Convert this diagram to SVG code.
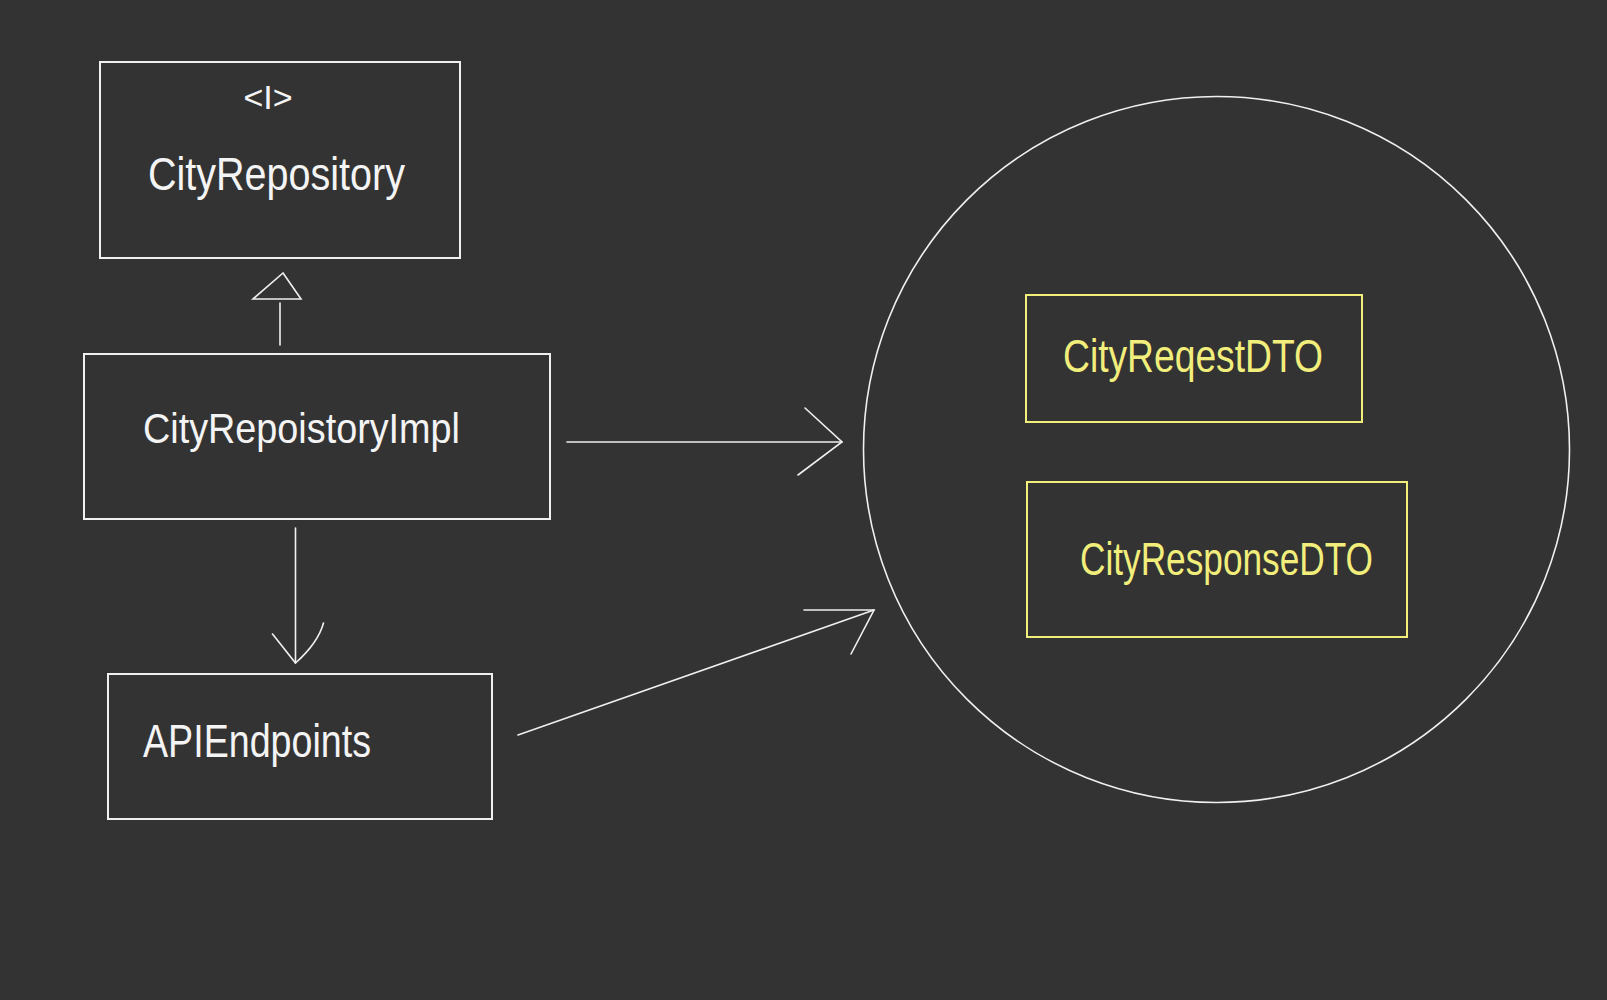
<svg xmlns="http://www.w3.org/2000/svg" width="1607" height="1000" viewBox="0 0 1607 1000">
<style>
.bg{fill:#333333}
.box{fill:none;stroke:#f0f0f0;stroke-width:2}
.ybox{fill:none;stroke:#f2ee7c;stroke-width:2}
.ln{fill:none;stroke:#f0f0f0;stroke-width:1.6;stroke-linecap:round;stroke-linejoin:miter}
.t{font-family:"Liberation Sans",Arial,sans-serif;fill:#f4f4f4;font-weight:normal}
.yt{font-family:"Liberation Sans",Arial,sans-serif;fill:#f2ee7c}
</style>
<rect class="bg" x="0" y="0" width="1607" height="1000"/>
<g id="city-repository">
<rect class="box" x="100" y="62" width="360" height="196"/>
<text class="t" x="268" y="109" font-size="34" text-anchor="middle">&lt;I&gt;</text>
<text class="t" x="148" y="190" font-size="46" textLength="257" lengthAdjust="spacingAndGlyphs">CityRepository</text>
</g>
<g id="city-repository-impl">
<rect class="box" x="84" y="354" width="466" height="165"/>
<text class="t" x="143" y="443" font-size="42" textLength="317" lengthAdjust="spacingAndGlyphs">CityRepoistoryImpl</text>
</g>
<g id="api-endpoints">
<rect class="box" x="108" y="674" width="384" height="145"/>
<text class="t" x="143" y="757" font-size="46" textLength="228" lengthAdjust="spacingAndGlyphs">APIEndpoints</text>
</g>
<g id="dto-group">
<circle class="ln" cx="1216.5" cy="449.5" r="353"/>
</g>
<g id="city-request-dto">
<rect class="ybox" x="1026" y="295" width="336" height="127"/>
<text class="yt" x="1063" y="372" font-size="46" textLength="260" lengthAdjust="spacingAndGlyphs">CityReqestDTO</text>
</g>
<g id="city-response-dto">
<rect class="ybox" x="1027" y="482" width="380" height="155"/>
<text class="yt" x="1080" y="575" font-size="46" textLength="293" lengthAdjust="spacingAndGlyphs">CityResponseDTO</text>
</g>
<g id="connectors">
<line class="ln" x1="280" y1="345" x2="280" y2="303"/>
<polygon class="ln" points="283,273 253,299 301,299"/>
<line class="ln" x1="567" y1="442" x2="842" y2="442"/>
<polyline class="ln" points="805,408 842,442 798,475"/>
<line class="ln" x1="295.5" y1="528" x2="295.5" y2="663"/>
<path class="ln" d="M272.5,634 L295.5,663 Q318,643 323.5,623"/>
<line class="ln" x1="518" y1="735" x2="874" y2="610"/>
<polyline class="ln" points="804,610 874,610 851,654"/>
</g>
</svg>
